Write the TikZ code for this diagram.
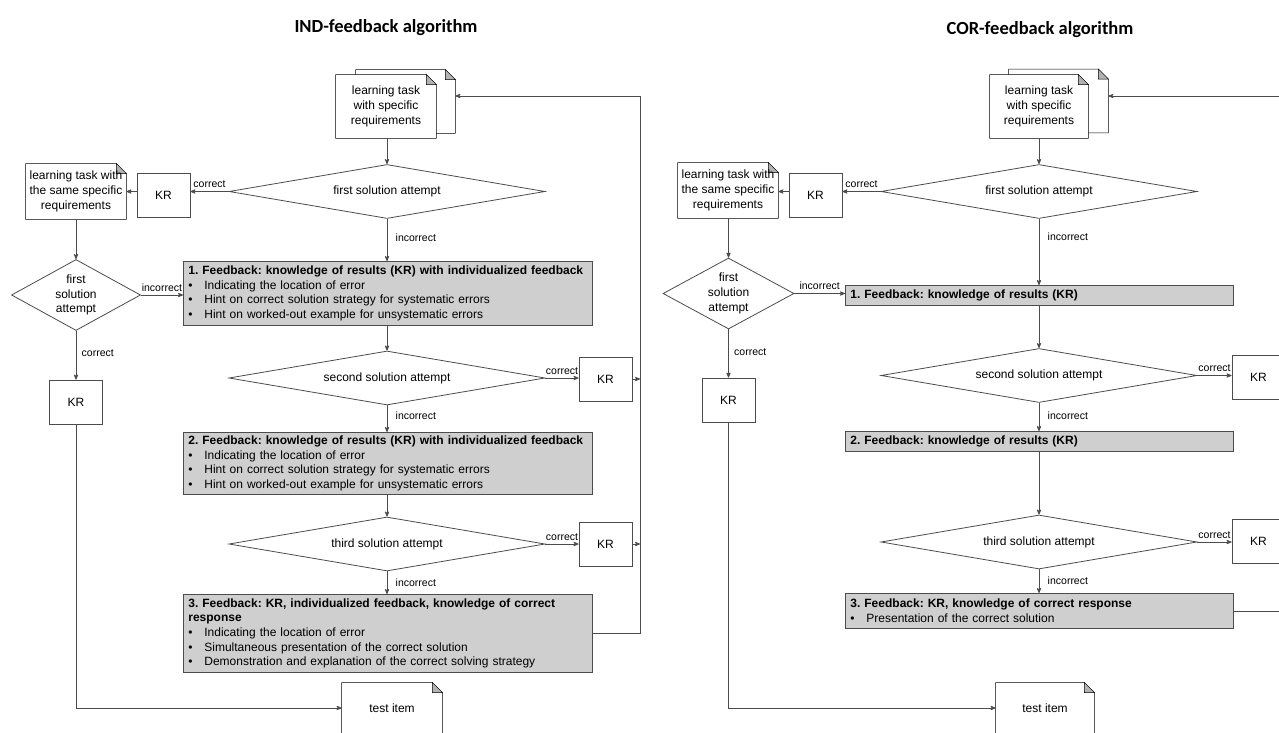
\documentclass[tikz,border=0pt]{standalone}
\usepackage{fontspec}
\setmainfont{Liberation Sans}
\newfontfamily\titlefont{Carlito}
\usetikzlibrary{arrows,shapes.geometric,backgrounds}
\frenchspacing

\newcommand{\itm}{\makebox[16pt][l]{\textbullet}}
% dog-eared sheet drawn behind a named node
\newcommand{\docshape}[1]{%
  \begin{scope}[on background layer]
    \draw[-,fill=white] (#1.north west) -- ([xshift=-10pt]#1.north east) -- ([yshift=-10pt]#1.north east) -- (#1.south east) -- (#1.south west) -- cycle;
    \draw[-,fill=black!30] ([xshift=-10pt]#1.north east) -- ([yshift=-10pt]#1.north east) -- ([xshift=-10pt,yshift=-10pt]#1.north east) -- cycle;
  \end{scope}}

\begin{document}
\begin{tikzpicture}[x=1pt,y=-1pt,>=stealth',draw=black!70,line width=0.8pt,
  every node/.style={font=\fontsize{12}{14.7}\selectfont},
  title/.style={font=\titlefont\bfseries\fontsize{18.5}{22}\selectfont},
  doc node/.style={rectangle,minimum width=100pt,minimum height=63pt,align=center,inner sep=0pt},
  kr node/.style={rectangle,draw,fill=white,minimum width=53pt,minimum height=44pt},
  attempt/.style={diamond,draw,aspect=6,inner sep=0pt,minimum width=316pt,minimum height=54pt},
  small attempt/.style={diamond,draw,aspect=1.8,inner sep=0pt,minimum width=129pt,minimum height=71pt,align=center},
  fbbox/.style={rectangle,draw,fill=black!19,anchor=north west,align=left,inner xsep=5pt,inner ysep=3pt,text width=#1},
  fbbox/.default=399pt,
  lbl/.style={font=\fontsize{10.5}{12}\selectfont}]

  \useasboundingbox (0,0) rectangle (1279,733);
  \clip (0,0) rectangle (1279,733);

  % ---------------- IND-feedback ----------------
  \node[title] (indtitle) at (386,28) {IND-feedback algorithm};

  \node[doc node,minimum width=99pt] (taskback) at (405.5,101.5) {};
  \node[doc node] (task) at (386,106.5) {learning task\\with specific\\requirements};
  \docshape{taskback}
  \docshape{task}

  \node[attempt] (dec1) at (387,191.5) {first solution attempt};
  \node[kr node] (kr1) at (163.5,195.5) {KR};
  \node[doc node,minimum height=55pt] (same) at (76,191.5) {learning task with\\the same specific\\requirements};
  \docshape{same}
  \node[small attempt] (sdec) at (76,295) {first\\solution\\attempt};
  \node[kr node] (krl) at (76,402) {KR};

  \node[fbbox,minimum height=64pt] (fb1) at (183,261)
    {\textbf{1. Feedback: knowledge of results (KR) with individualized feedback}\\
     \itm Indicating the location of error\\
     \itm Hint on correct solution strategy for systematic errors\\
     \itm Hint on worked-out example for unsystematic errors};
  \node[attempt] (dec2) at (387,378) {second solution attempt};
  \node[kr node] (kr2) at (605.5,379) {KR};
  \node[fbbox,minimum height=62pt] (fb2) at (183,432)
    {\textbf{2. Feedback: knowledge of results (KR) with individualized feedback}\\
     \itm Indicating the location of error\\
     \itm Hint on correct solution strategy for systematic errors\\
     \itm Hint on worked-out example for unsystematic errors};
  \node[attempt] (dec3) at (387,544) {third solution attempt};
  \node[kr node] (kr3) at (605.5,544) {KR};
  \node[fbbox,minimum height=78pt] (fb3) at (183,594)
    {\textbf{3. Feedback: KR, individualized feedback, knowledge of correct}\\
     \textbf{response}\\
     \itm Indicating the location of error\\
     \itm Simultaneous presentation of the correct solution\\
     \itm Demonstration and explanation of the correct solving strategy};
  \node[doc node,minimum height=50pt] (test) at (392,708) {test item};
  \docshape{test}
  \coordinate (loop) at (640,96);

  \draw[->] (task.south -| dec1) -- (dec1.north);
  \draw[->] (dec1.west) -- (dec1.west -| kr1.east) node[lbl,midway,above] {correct};
  \draw[->] (kr1.west |- dec1.west) -- (same.east |- dec1.west);
  \draw[->] (same.south) -- (sdec.north);
  \draw[->] (sdec.east) -- (sdec.east -| fb1.west) node[lbl,midway,above] {incorrect};
  \draw[->] (sdec.south) -- (krl.north) node[lbl,pos=0.46,right,xshift=2pt] {correct};
  \draw[->] (krl.south) |- (test.west);
  \draw[->] (dec1.south) -- (dec1.south |- fb1.north) node[lbl,pos=0.45,right,xshift=5pt] {incorrect};
  \draw[->] (dec1.south |- fb1.south) -- (dec2.north);
  \draw[->] (dec2.east) -- (dec2.east -| kr2.west) node[lbl,midway,above] {correct};
  \draw[->] (dec2.south) -- (dec2.south |- fb2.north) node[lbl,pos=0.4,right,xshift=5pt] {incorrect};
  \draw[->] (dec2.south |- fb2.south) -- (dec3.north);
  \draw[->] (dec3.east) -- (dec3.east -| kr3.west) node[lbl,midway,above] {correct};
  \draw[->] (dec3.south) -- (dec3.south |- fb3.north) node[lbl,pos=0.48,right,xshift=5pt] {incorrect};
  \draw[->] (kr2.east) -- (kr2.east -| loop);
  \draw[->] (kr3.east) -- (kr3.east -| loop);
  \draw[->] (fb3.east) -- (fb3.east -| loop) -- (loop) -- (loop -| taskback.east);

  % ---------------- COR-feedback ----------------
  \node[title] (cortitle) at (1040,30) {COR-feedback algorithm};

  \node[doc node,minimum width=99pt] (rtaskback) at (1058.5,101) {};
  \node[doc node,minimum width=98pt] (rtask) at (1039,106.5) {learning task\\with specific\\requirements};
  \docshape{rtaskback}
  \docshape{rtask}

  \node[attempt] (rdec1) at (1039,191.5) {first solution attempt};
  \node[kr node] (rkr1) at (815.5,195.5) {KR};
  \node[doc node,minimum height=55pt] (rsame) at (728,190.5) {learning task with\\the same specific\\requirements};
  \docshape{rsame}
  \node[small attempt,minimum width=131pt] (rsdec) at (728.5,293.5) {first\\solution\\attempt};
  \node[kr node] (rkrl) at (728.5,400) {KR};

  \node[fbbox=378pt,minimum height=20pt] (rfb1) at (845,285)
    {\textbf{1. Feedback: knowledge of results (KR)}};
  \node[attempt] (rdec2) at (1039,375.5) {second solution attempt};
  \node[kr node] (rkr2) at (1258.5,377.5) {KR};
  \node[fbbox=378pt,minimum height=20pt] (rfb2) at (845,431)
    {\textbf{2. Feedback: knowledge of results (KR)}};
  \node[attempt] (rdec3) at (1039,542) {third solution attempt};
  \node[kr node] (rkr3) at (1258.5,541.5) {KR};
  \node[fbbox=378pt,minimum height=35pt] (rfb3) at (845,593)
    {\textbf{3. Feedback: KR, knowledge of correct response}\\
     \itm Presentation of the correct solution};
  \node[doc node,minimum width=98pt,minimum height=50pt] (rtest) at (1045,708) {test item};
  \docshape{rtest}
  \coordinate (rloop) at (1300,96);

  \draw[->] (rtask.south -| rdec1) -- (rdec1.north);
  \draw[->] (rdec1.west) -- (rdec1.west -| rkr1.east) node[lbl,midway,above] {correct};
  \draw[->] (rkr1.west |- rdec1.west) -- (rsame.east |- rdec1.west);
  \draw[->] (rsame.south -| rsdec) -- (rsdec.north);
  \draw[->] (rsdec.east) -- (rsdec.east -| rfb1.west) node[lbl,midway,above] {incorrect};
  \draw[->] (rsdec.south) -- (rkrl.north) node[lbl,pos=0.47,right,xshift=2pt] {correct};
  \draw[->] (rkrl.south) |- (rtest.west);
  \draw[->] (rdec1.south) -- (rdec1.south |- rfb1.north) node[lbl,pos=0.27,right,xshift=5pt] {incorrect};
  \draw[->] (rdec1.south |- rfb1.south) -- (rdec2.north);
  \draw[->] (rdec2.east) -- (rdec2.east -| rkr2.west) node[lbl,midway,above] {correct};
  \draw[->] (rdec2.south) -- (rdec2.south |- rfb2.north) node[lbl,pos=0.46,right,xshift=5pt] {incorrect};
  \draw[->] (rdec2.south |- rfb2.south) -- (rdec3.north);
  \draw[->] (rdec3.east) -- (rdec3.east -| rkr3.west) node[lbl,midway,above] {correct};
  \draw[->] (rdec3.south) -- (rdec3.south |- rfb3.north) node[lbl,pos=0.5,right,xshift=5pt] {incorrect};
  \draw[->] (rfb3.east) -- (rfb3.east -| rloop) -- (rloop) -- (rloop -| rtaskback.east);
\end{tikzpicture}
\end{document}
